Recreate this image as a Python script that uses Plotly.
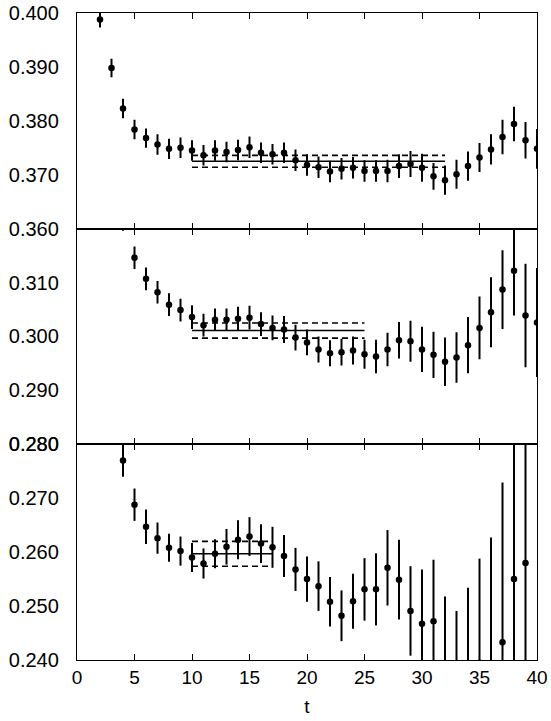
import plotly.graph_objects as go

# ---------------- data ----------------
t_top = list(range(2, 41))
y_top = [0.3988, 0.3898, 0.3823, 0.3784, 0.3768, 0.3756, 0.3748, 0.3750, 0.3745, 0.3736,
         0.3745, 0.3742, 0.3746, 0.3751, 0.3741, 0.3738, 0.3741, 0.3727, 0.3718, 0.3714,
         0.3706, 0.3711, 0.3713, 0.3707, 0.3707, 0.3707, 0.3716, 0.3720, 0.3713, 0.3697,
         0.3690, 0.3701, 0.3716, 0.3732, 0.3747, 0.3770, 0.3794, 0.3764, 0.3748]
e_top = [0.0015, 0.0017, 0.0018, 0.0018, 0.0018, 0.0019, 0.0019, 0.0019, 0.0019, 0.0019,
         0.0019, 0.0019, 0.0019, 0.0020, 0.0019, 0.0019, 0.0019, 0.0020, 0.0020, 0.0020,
         0.0020, 0.0020, 0.0020, 0.0020, 0.0020, 0.0021, 0.0022, 0.0024, 0.0026, 0.0025,
         0.0027, 0.0027, 0.0027, 0.0027, 0.0028, 0.0032, 0.0032, 0.0034, 0.0037]

t_mid = list(range(4, 41))
y_mid = [0.3218, 0.3146, 0.3107, 0.3082, 0.3059, 0.3049, 0.3036, 0.3021, 0.3031, 0.3031,
         0.3033, 0.3035, 0.3023, 0.3016, 0.3013, 0.2998, 0.2989, 0.2976, 0.2969, 0.2971,
         0.2974, 0.2967, 0.2963, 0.2976, 0.2993, 0.2991, 0.2976, 0.2966, 0.2953, 0.2961,
         0.2984, 0.3016, 0.3045, 0.3087, 0.3122, 0.3039, 0.3026]
e_mid = [0.0022, 0.0021, 0.0021, 0.0021, 0.0021, 0.0021, 0.0022, 0.0021, 0.0021, 0.0021,
         0.0022, 0.0022, 0.0022, 0.0023, 0.0025, 0.0024, 0.0024, 0.0024, 0.0024, 0.0025,
         0.0026, 0.0027, 0.0031, 0.0031, 0.0034, 0.0038, 0.0042, 0.0043, 0.0045, 0.0047,
         0.0052, 0.0058, 0.0065, 0.0073, 0.0083, 0.0096, 0.0101]

t_bot = list(range(4, 40))
y_bot = [0.2770, 0.2688, 0.2647, 0.2626, 0.2608, 0.2602, 0.2590, 0.2579, 0.2597, 0.2610,
         0.2623, 0.2629, 0.2616, 0.2609, 0.2593, 0.2568, 0.2550, 0.2537, 0.2508, 0.2482,
         0.2509, 0.2531, 0.2531, 0.2571, 0.2549, 0.2491, 0.2467, 0.2472, 0.2390, 0.2355,
         0.2380, 0.2395, 0.2390, 0.2433, 0.2550, 0.2580]
e_bot = [0.0030, 0.0030, 0.0032, 0.0029, 0.0026, 0.0027, 0.0027, 0.0028, 0.0027, 0.0033,
         0.0036, 0.0036, 0.0036, 0.0038, 0.0039, 0.0040, 0.0042, 0.0046, 0.0046, 0.0047,
         0.0051, 0.0058, 0.0067, 0.0070, 0.0074, 0.0083, 0.0101, 0.0114, 0.0128, 0.0136,
         0.0154, 0.0193, 0.0237, 0.0296, 0.0300, 0.0350]

# fits: [t_start, t_end], central value, error
fit_top = {"range": [10, 32], "value": 0.3725, "err": 0.0011}
fit_mid = {"range": [10, 25], "value": 0.3011, "err": 0.0014}
fit_bot = {"range": [10, 17], "value": 0.2597, "err": 0.0023}

x_ticks = [0, 5, 10, 15, 20, 25, 30, 35, 40]
y_ticks_top = [0.360, 0.370, 0.380, 0.390, 0.400]
y_ticks_mid = [0.280, 0.290, 0.300, 0.310]
y_ticks_bot = [0.240, 0.250, 0.260, 0.270, 0.280]
y_range_top = [0.360, 0.400]
y_range_mid = [0.280, 0.320]
y_range_bot = [0.240, 0.280]

FONT = "Liberation Sans, Arial, Helvetica, sans-serif"

fig = go.Figure()

panels = [
    (t_top, y_top, e_top, fit_top, "x", "y"),
    (t_mid, y_mid, e_mid, fit_mid, "x2", "y2"),
    (t_bot, y_bot, e_bot, fit_bot, "x3", "y3"),
]

for tt, yy, ee, fit, xa, ya in panels:
    fig.add_trace(go.Scatter(
        x=tt, y=yy, mode="markers", xaxis=xa, yaxis=ya,
        marker=dict(color="black", size=6.5),
        error_y=dict(type="data", array=ee, visible=True, color="black",
                     thickness=2, width=0),
        showlegend=False, hoverinfo="x+y"))
    v, e = fit["value"], fit["err"]
    fig.add_trace(go.Scatter(x=fit["range"], y=[v, v], mode="lines",
                             xaxis=xa, yaxis=ya, showlegend=False,
                             line=dict(color="black", width=1.6)))
    for yv in (v + e, v - e):
        fig.add_trace(go.Scatter(x=fit["range"], y=[yv, yv], mode="lines",
                                 xaxis=xa, yaxis=ya, showlegend=False,
                                 line=dict(color="black", width=1.6, dash="6px,4px")))

doms = {"top": [2 / 3, 1.0], "mid": [1 / 3, 2 / 3], "bot": [0.0, 1 / 3]}

xcommon = dict(range=[0, 40], tickvals=x_ticks, ticks="inside", ticklen=6,
               tickwidth=1, tickcolor="black", showline=True, linecolor="black",
               linewidth=1.3, mirror="ticks", showgrid=False, zeroline=False,
               tickfont=dict(family=FONT, size=19, color="black"))
ycommon = dict(ticks="", showline=True, linecolor="black", linewidth=1.3,
               mirror=True, showgrid=False, zeroline=False, tickformat=".3f",
               ticklabelstandoff=13,
               tickfont=dict(family=FONT, size=20, color="black"))
yright = dict(ticks="inside", ticklen=6, tickwidth=1, tickcolor="black",
              showticklabels=False, showgrid=False, zeroline=False,
              showline=False, side="right")

fig.update_layout(
    width=551, height=721,
    margin=dict(l=77, r=14, t=13, b=61, autoexpand=False),
    paper_bgcolor="white", plot_bgcolor="white",
    xaxis=dict(xcommon, anchor="y", showticklabels=False),
    xaxis2=dict(xcommon, anchor="y2", matches="x", showticklabels=False),
    xaxis3=dict(xcommon, anchor="y3", matches="x",
                title=dict(text="t", font=dict(family=FONT, size=19, color="black"),
                           standoff=12)),
    yaxis=dict(ycommon, domain=doms["top"], range=y_range_top, tickvals=y_ticks_top, anchor="x"),
    yaxis2=dict(ycommon, domain=doms["mid"], range=y_range_mid, tickvals=y_ticks_mid, anchor="x2"),
    yaxis3=dict(ycommon, domain=doms["bot"], range=y_range_bot, tickvals=y_ticks_bot, anchor="x3"),
    yaxis4=dict(yright, overlaying="y", anchor="x", range=y_range_top, tickvals=y_ticks_top),
    yaxis5=dict(yright, overlaying="y2", anchor="x2", range=y_range_mid, tickvals=y_ticks_mid),
    yaxis6=dict(yright, overlaying="y3", anchor="x3", range=y_range_bot, tickvals=y_ticks_bot),
)

fig.write_html("out.html", config={"displayModeBar": False},
               post_script="document.body.style.margin='0';document.body.style.overflow='hidden';")
